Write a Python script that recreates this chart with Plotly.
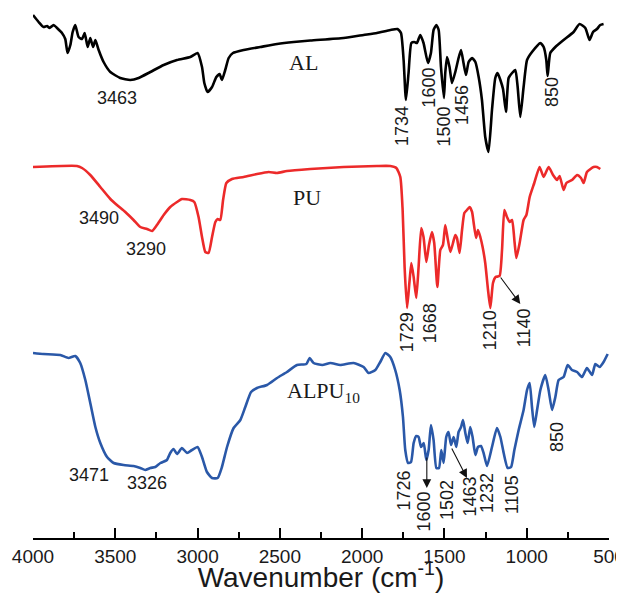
import plotly.graph_objects as go

# ---------------- data (wavenumber cm-1, offset transmittance a.u.) ----------------
al_wn = [4000, 3966, 3936, 3915, 3899, 3875, 3854, 3824, 3804, 3790, 3773, 3759, 3743, 3723, 3702,
         3686, 3668, 3652, 3635, 3621, 3601, 3571, 3530, 3470, 3409, 3358, 3287, 3206, 3125, 3044,
         3000, 2973, 2959, 2939, 2912, 2886, 2866, 2852, 2832, 2811, 2785, 2720, 2619, 2517, 2416,
         2315, 2113, 1991, 1910, 1829, 1785, 1764, 1748, 1734, 1718, 1701, 1683, 1667, 1647, 1627,
         1600, 1582, 1566, 1549, 1535, 1521, 1503, 1495, 1484, 1469, 1454, 1434, 1414, 1399, 1384,
         1369, 1353, 1332, 1312, 1292, 1272, 1252, 1232, 1211, 1191, 1177, 1160, 1144, 1126, 1110,
         1089, 1069, 1055, 1039, 1019, 998, 968, 917, 897, 881, 873, 857, 826, 776, 715,
         679, 644, 618, 597, 573, 553, 533]
al_t = [523, 516, 511, 512, 510, 513, 510, 505, 499, 485, 493, 506, 513, 501, 499,
        505, 491, 500, 491, 498, 488, 476, 466, 460, 458, 460, 466, 473, 478, 481,
        485, 471, 455, 446, 451, 461, 464, 458, 468, 480, 485, 488, 491, 494, 496,
        497.5, 500, 503, 505, 508, 509, 505, 478, 438, 465, 495, 496, 495, 503, 495,
        475, 485, 508, 513, 508, 471, 440, 465, 481, 471, 455, 466, 480, 488, 475,
        463, 476, 480, 476, 461, 438, 401, 386, 428, 460, 465, 458, 449, 426, 460,
        465, 468, 451, 421, 451, 478, 486, 495, 491, 478, 462, 485, 491, 498, 506,
        514, 510, 498, 506, 509, 513, 514]

pu_wn = [4000, 3733, 3702, 3652, 3591, 3530, 3490, 3439, 3389, 3348, 3307, 3277, 3247, 3206, 3166,
         3125, 3095, 3044, 3020, 2994, 2973, 2953, 2933, 2912, 2892, 2878, 2862, 2845, 2825, 2791,
         2720, 2639, 2568, 2517, 2457, 2315, 2113, 1910, 1829, 1792, 1768, 1754, 1742, 1727, 1713,
         1701, 1687, 1671, 1657, 1641, 1627, 1610, 1594, 1576, 1562, 1543, 1525, 1509, 1495, 1481,
         1464, 1448, 1434, 1424, 1408, 1393, 1379, 1363, 1347, 1332, 1323, 1308, 1296, 1282, 1268,
         1252, 1235, 1221, 1205, 1189, 1165, 1150, 1136, 1120, 1104, 1089, 1074, 1063, 1043, 1019,
         1002, 982, 954, 922, 897, 867, 840, 816, 800, 776, 759, 725, 694, 670, 654,
         634, 594, 573, 553]
pu_t = [371, 372, 370, 363, 351, 339, 333, 326, 318, 311, 309, 307, 313, 323, 331,
        336, 339, 338, 336, 321, 301, 286, 285, 301, 316, 319, 318, 338, 355, 359,
        361, 364, 366, 365, 367, 369, 371, 372, 372, 370, 361, 328, 271, 230, 255,
        275, 261, 240, 271, 310, 301, 276, 293, 306, 295, 251, 288, 293, 313, 300,
        286, 295, 303, 300, 285, 308, 325, 328, 331, 326, 316, 300, 308, 301, 291,
        275, 248, 230, 255, 261, 262, 288, 328, 321, 316, 318, 296, 280, 295, 318,
        323, 341, 355, 371, 361, 371, 363, 358, 362, 348, 355, 358, 363, 360, 355,
        366, 371, 371, 369]

alpu_wn = [4000, 3936, 3834, 3784, 3743, 3713, 3682, 3652, 3621, 3591, 3550, 3510, 3449, 3389, 3348,
           3318, 3287, 3257, 3226, 3186, 3166, 3146, 3125, 3095, 3064, 3034, 3000, 2973, 2943, 2912,
           2878, 2852, 2821, 2781, 2740, 2710, 2675, 2639, 2578, 2517, 2457, 2396, 2339, 2319, 2295,
           2242, 2193, 2133, 2052, 1991, 1961, 1920, 1890, 1859, 1829, 1799, 1772, 1752, 1738, 1721,
           1703, 1687, 1671, 1657, 1642, 1626, 1610, 1596, 1582, 1566, 1549, 1533, 1519, 1505, 1489,
           1475, 1460, 1444, 1428, 1414, 1399, 1387, 1373, 1359, 1343, 1329, 1312, 1296, 1278, 1262,
           1241, 1211, 1181, 1160, 1140, 1116, 1095, 1075, 1049, 1019, 998, 982, 968, 954, 937,
           917, 887, 867, 846, 826, 806, 776, 751, 725, 694, 664, 634, 603, 583, 557,
           533, 508]
alpu_t = [185, 184, 183, 180, 182, 175, 158, 135, 111, 95, 81, 75, 73, 72, 70,
          68, 70, 71, 75, 78, 85, 89, 84, 90, 85, 88, 91, 81, 66, 60,
          60, 71, 91, 110, 118, 131, 146, 150, 153, 160, 166, 173, 174, 180, 175,
          173, 175, 173, 175, 171, 165, 168, 176, 185, 181, 168, 148, 121, 88, 75,
          76, 95, 102, 101, 91, 95, 78, 88, 113, 98, 70, 70, 88, 75, 101,
          106, 93, 101, 91, 106, 111, 118, 105, 95, 111, 101, 83, 91, 92, 85,
          72, 91, 110, 101, 85, 70, 71, 88, 108, 128, 148, 155, 131, 111, 128,
          148, 163, 148, 128, 141, 158, 161, 173, 168, 166, 161, 170, 163, 174, 171,
          176, 184]

series_names = ["AL", "PU", "ALPU<sub>10</sub>"]

# peak labels: text, wavenumber position, ordinate position, rotated?
peak_text = ["3463", "1734", "1600", "1500", "1456", "850",
             "3490", "3290", "1729", "1668", "1210", "1140",
             "3471", "3326", "1726", "1600", "1502", "1463", "1232", "1105", "850"]
peak_x = [3489, 1758, 1596, 1505, 1393, 846,
          3597, 3313, 1726, 1586, 1221, 1015,
          3662, 3307, 1748, 1627, 1484, 1347, 1241, 1089, 816]
peak_y = [440, 412, 450, 411, 433, 446,
          320, 289, 206, 215, 208, 210,
          63, 55, 47, 26, 38, 41, 45, 43, 101]
peak_rot = [False, True, True, True, True, True,
            False, False, True, True, True, True,
            False, False, True, True, True, True, True, True, True]

name_x = [2358, 2333, 2235]
name_y = [476, 341, 146]

# arrows: (tail wn, tail t) -> (head wn, head t)
arrow_from = [(1165, 262), (1607, 82), (1460, 91)]
arrow_to = [(1039, 234), (1607, 50), (1363, 60)]

x_ticks = [4000, 3500, 3000, 2500, 2000, 1500, 1000, 500]

# ---------------- figure ----------------
colors = ["#000000", "#ec2a2a", "#2a58a8"]
fig = go.Figure()
for wn, t, c in zip([al_wn, pu_wn, alpu_wn], [al_t, pu_t, alpu_t], colors):
    fig.add_trace(go.Scatter(x=wn, y=t, mode="lines",
                             line=dict(color=c, width=2.6, shape="spline", smoothing=0.5),
                             showlegend=False, hoverinfo="skip", cliponaxis=False))

for txt, x, y, rot in zip(peak_text, peak_x, peak_y, peak_rot):
    fig.add_annotation(x=x, y=y, text=txt, showarrow=False, textangle=-90 if rot else 0,
                       xanchor="center", yanchor="middle",
                       font=dict(family="Liberation Sans, Arial", size=18, color="#1a1a1a"))

for nm, x, y in zip(series_names, name_x, name_y):
    fig.add_annotation(x=x, y=y, text=nm, showarrow=False, xanchor="center", yanchor="middle",
                       font=dict(family="Liberation Serif, Times New Roman", size=22, color="#1a1a1a"))

for (x0, y0), (x1, y1) in zip(arrow_from, arrow_to):
    fig.add_annotation(x=x1, y=y1, ax=x0, ay=y0, axref="x", ayref="y", xref="x", yref="y",
                       text="", showarrow=True, arrowhead=2, arrowsize=1.6, arrowwidth=1.1,
                       arrowcolor="#111111", standoff=0, startstandoff=0)

# the page body adds an 8 px offset, so the figure is 8 px smaller than the window
fig.update_layout(
    width=616, height=585,
    margin=dict(l=24.7, r=15.3, t=0, b=55, autoexpand=False),
    paper_bgcolor="white", plot_bgcolor="white",
    xaxis=dict(range=[4000, 500], tickvals=x_ticks, ticks="inside", ticklen=10, tickwidth=1.5,
               tickcolor="black", showline=True, linecolor="black", linewidth=1.5,
               showgrid=False, zeroline=False, automargin=False, ticklabeloverflow="allow",
               minor=dict(dtick=250, ticks="inside", ticklen=6, tickwidth=1.5, tickcolor="black", showgrid=False),
               tickfont=dict(family="Liberation Sans, Arial", size=19, color="#1a1a1a"),
               title=dict(text="Wavenumber (cm<sup>-1</sup>)", standoff=3,
                          font=dict(family="Liberation Sans, Arial", size=28, color="#1a1a1a"))),
    yaxis=dict(range=[0, 530], visible=False, showgrid=False, zeroline=False),
)

fig.write_html("out.html")
